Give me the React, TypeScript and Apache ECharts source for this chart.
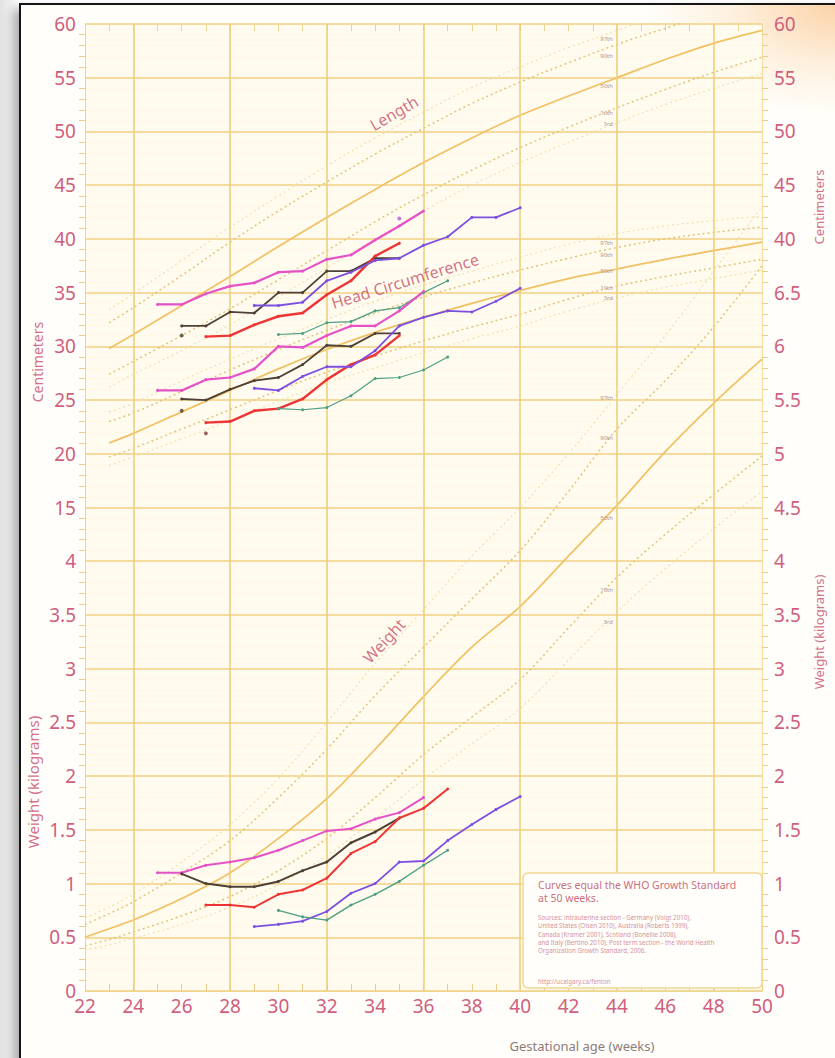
import React, { useEffect, useRef } from "react";
import * as echarts from "echarts";

// ---- Axis ranges / tick labels ----
const weekMin = 22;
const weekMax = 50;
const leftTickLabels = ["0", "0.5", "1", "1.5", "2", "2.5", "3", "3.5", "4", "15", "20", "25", "30", "35", "40", "45", "50", "55", "60"];
const rightTickLabels = ["0", "0.5", "1", "1.5", "2", "2.5", "3", "3.5", "4", "4.5", "5", "5.5", "6", "6.5", "40", "45", "50", "55", "60"];
const majorWeekLines = [24, 28, 32, 36, 40, 44, 48];

// ---- Reference percentile curves (cm) ----
const weeksLH = [23, 24, 26, 28, 30, 32, 34, 36, 38, 40, 42, 44, 46, 48, 50];
const len97 = [33.4, 34.9, 38.0, 41.1, 44.0, 46.8, 49.4, 51.8, 54.1, 56.0, 57.8, 59.4, 61.0, 62.4, 63.6];
const len90 = [32.2, 33.6, 36.6, 39.7, 42.6, 45.3, 47.9, 50.3, 52.6, 54.6, 56.4, 58.1, 59.6, 61.0, 62.2];
const len50 = [29.8, 31.1, 33.8, 36.5, 39.3, 42.0, 44.6, 47.1, 49.4, 51.5, 53.3, 55.0, 56.7, 58.2, 59.4];
const len10 = [27.4, 28.6, 31.0, 33.5, 36.2, 38.9, 41.6, 44.1, 46.4, 48.5, 50.4, 52.2, 53.9, 55.5, 56.9];
const len3 = [26.2, 27.4, 29.6, 32.0, 34.6, 37.3, 40.0, 42.6, 45.0, 47.1, 49.0, 50.8, 52.5, 54.0, 55.4];

const hc97 = [23.9, 24.7, 26.8, 28.8, 30.7, 32.5, 34.2, 35.7, 37.0, 38.3, 39.5, 40.5, 41.2, 41.7, 42.1];
const hc90 = [23.0, 23.8, 25.8, 27.8, 29.7, 31.5, 33.1, 34.6, 35.9, 37.1, 38.2, 39.2, 40.0, 40.6, 41.1];
const hc50 = [21.0, 21.9, 23.9, 25.9, 27.9, 29.7, 31.3, 32.7, 34.0, 35.2, 36.3, 37.2, 38.1, 38.9, 39.7];
const hc10 = [19.7, 20.5, 22.3, 24.1, 25.9, 27.6, 29.1, 30.5, 31.8, 33.0, 34.4, 35.6, 36.5, 37.3, 38.1];
const hc3 = [18.9, 19.7, 21.4, 23.1, 24.9, 26.6, 28.0, 29.4, 30.7, 31.9, 33.3, 34.5, 35.5, 36.3, 37.1];

// ---- Reference percentile curves (kg) ----
const weeksWt = [22, 23, 24, 26, 28, 30, 32, 34, 36, 38, 40, 42, 44, 46, 48, 50];
const wt97 = [0.68, 0.78, 0.9, 1.2, 1.55, 1.98, 2.5, 3.05, 3.55, 4.05, 4.5, 5.0, 5.55, 6.1, 6.7, 7.3];
const wt90 = [0.62, 0.72, 0.83, 1.1, 1.4, 1.8, 2.25, 2.75, 3.2, 3.65, 4.1, 4.65, 5.23, 5.68, 6.18, 6.75];
const wt50 = [0.5, 0.58, 0.66, 0.86, 1.1, 1.42, 1.79, 2.25, 2.74, 3.2, 3.58, 4.05, 4.52, 5.02, 5.47, 5.88];
const wt10 = [0.42, 0.48, 0.55, 0.7, 0.88, 1.12, 1.42, 1.8, 2.2, 2.55, 2.9, 3.38, 3.85, 4.25, 4.62, 4.98];
const wt3 = [0.38, 0.43, 0.49, 0.62, 0.78, 0.99, 1.26, 1.6, 1.97, 2.3, 2.63, 3.08, 3.53, 3.93, 4.3, 4.65];

// ---- Plotted infant measurements ----
const wkMagenta = [25, 26, 27, 28, 29, 30, 31, 32, 33, 34, 35, 36];
const wkBlack = [26, 27, 28, 29, 30, 31, 32, 33, 34, 35];
const wkRed = [27, 28, 29, 30, 31, 32, 33, 34, 35];
const wkRedWt = [27, 28, 29, 30, 31, 32, 33, 34, 35, 36, 37];
const wkPurple = [29, 30, 31, 32, 33, 34, 35, 36, 37, 38, 39, 40];
const wkGreen = [30, 31, 32, 33, 34, 35, 36, 37];

const lenMagenta = [33.9, 33.9, 34.9, 35.6, 35.9, 36.9, 37.0, 38.1, 38.5, 39.9, 41.2, 42.6];
const lenBlack = [31.9, 31.9, 33.2, 33.1, 35.0, 35.0, 37.0, 37.0, 38.2, 38.2];
const lenRed = [30.9, 31.0, 32.0, 32.8, 33.1, 34.8, 36.1, 38.4, 39.6];
const lenPurple = [33.8, 33.8, 34.1, 36.1, 36.9, 38.0, 38.2, 39.4, 40.2, 42.0, 42.0, 42.9];
const lenGreen = [31.1, 31.2, 32.2, 32.3, 33.3, 33.6, 35.0, 36.1];

const hcMagenta = [25.9, 25.9, 26.9, 27.1, 27.9, 30.0, 29.9, 31.0, 31.9, 31.9, 33.3, 35.1];
const hcBlack = [25.1, 25.0, 26.0, 26.8, 27.1, 28.3, 30.1, 30.0, 31.2, 31.2];
const hcRed = [22.9, 23.0, 24.0, 24.2, 25.1, 26.9, 28.3, 29.2, 31.0];
const hcPurple = [26.1, 25.9, 27.2, 28.1, 28.1, 29.6, 31.9, 32.7, 33.3, 33.2, 34.2, 35.4];
const hcGreen = [24.2, 24.1, 24.3, 25.4, 27.0, 27.1, 27.8, 29.0];

const wtMagenta = [1.1, 1.1, 1.17, 1.2, 1.24, 1.31, 1.4, 1.49, 1.51, 1.6, 1.66, 1.8];
const wtBlack = [1.09, 1.0, 0.97, 0.97, 1.02, 1.12, 1.2, 1.38, 1.48, 1.61];
const wtRed = [0.8, 0.8, 0.78, 0.9, 0.94, 1.05, 1.28, 1.39, 1.61, 1.7, 1.88];
const wtPurple = [0.6, 0.62, 0.65, 0.74, 0.91, 1.0, 1.2, 1.21, 1.4, 1.55, 1.69, 1.81];
const wtGreen = [0.75, 0.69, 0.66, 0.8, 0.9, 1.02, 1.17, 1.31];

// single marks drawn in ink (week, cm)
const loneMarkWeeks = [26, 26, 27, 35];
const loneMarkValues = [31.0, 24.0, 21.9, 41.9];
const loneMarkColors = ["#4e4036", "#4e4036", "#8a3a3a", "#b05ad0"];

const INK = {
  magenta: "#e552c8",
  black: "#4e4036",
  red: "#ee3535",
  purple: "#7d4fe0",
  green: "#4e9e84",
};

const pairs = (xs: number[], ys: number[]) => xs.map((x, i) => [x, ys[i]]);

const ROSE = "#cf5f7d";
const FONT = "'Noto Sans', 'DejaVu Sans', sans-serif";

function percentileSeries(xs: number[], ys: number[], kind: "mid" | "inner" | "outer", weight: boolean) {
  const style =
    kind === "mid"
      ? { color: "#f1c063", width: 1.7, type: "solid" as const }
      : kind === "inner"
      ? { color: "#e2c27a", width: 1.5, type: [2, 3] as any }
      : { color: "#efe0b2", width: 1.2, type: [2, 3] as any };
  return {
    type: "line",
    data: pairs(xs, ys),
    xAxisIndex: 0,
    yAxisIndex: weight ? 2 : 0,
    smooth: 0.35,
    showSymbol: false,
    silent: true,
    z: 2,
    lineStyle: style,
  };
}

function inkSeries(xs: number[], ys: number[], color: string, weight: boolean, width = 2.2) {
  return {
    type: "line",
    data: pairs(xs, ys),
    xAxisIndex: 0,
    yAxisIndex: weight ? 2 : 0,
    smooth: false,
    symbol: "circle",
    symbolSize: 3,
    showSymbol: true,
    silent: true,
    z: 6,
    lineStyle: { color, width },
    itemStyle: { color },
  };
}

function tinyLabel(text: string, x: number, y: number) {
  return {
    type: "text",
    x,
    y,
    style: { text, fill: "#b8967a", fontSize: 6, fontFamily: FONT, align: "right", verticalAlign: "middle" },
    z: 20,
  };
}

function titleText(text: string, x: number, y: number, rotation: number, size: number, fill: string) {
  return {
    type: "text",
    x,
    y,
    rotation,
    style: { text, fill, fontSize: size, fontFamily: FONT, align: "center", verticalAlign: "middle" },
    z: 20,
  };
}

export default function App() {
  const ref = useRef<HTMLDivElement>(null);

  useEffect(() => {
    if (!ref.current) return;
    const chart = echarts.init(ref.current, undefined, { renderer: "svg" });

    const yLabelCommon = {
      color: ROSE,
      fontSize: 19,
      fontFamily: FONT,
    };

    const option: any = {
      animation: false,
      grid: {
        left: 85,
        right: 73,
        top: 24,
        bottom: 67,
        show: true,
        backgroundColor: "#fffcef",
        borderWidth: 0,
      },
      xAxis: [
        {
          type: "value",
          min: weekMin,
          max: weekMax,
          interval: 2,
          position: "bottom",
          axisLine: { show: true, onZero: false, lineStyle: { color: "#efd48c", width: 1 } },
          axisTick: { show: true, inside: true, length: 7, lineStyle: { color: "#e8cd88" } },
          minorTick: { show: true, splitNumber: 2, length: 7, lineStyle: { color: "#e8cd88" } },
          splitLine: { show: false },
          axisLabel: { color: ROSE, fontSize: 19, fontFamily: FONT, margin: 5 },
        },
        {
          type: "value",
          min: weekMin,
          max: weekMax,
          interval: 2,
          position: "top",
          axisLine: { show: false, onZero: false },
          axisTick: { show: true, inside: true, length: 7, lineStyle: { color: "#ecd493" } },
          minorTick: { show: true, splitNumber: 2, length: 7, lineStyle: { color: "#ecd493" } },
          splitLine: { show: false },
          axisLabel: { show: false },
        },
      ],
      yAxis: [
        {
          type: "value",
          min: -30,
          max: 60,
          interval: 5,
          position: "left",
          axisLine: { show: true, onZero: false, lineStyle: { color: "#efd48c", width: 1 } },
          axisTick: { show: false },
          minorTick: { show: true, splitNumber: 5, length: 6, lineStyle: { color: "#ead08c" } },
          splitLine: { show: true, lineStyle: { color: "#f2d283", width: 1.6 } },
          minorSplitLine: { show: true, lineStyle: { color: "#fdf6e2", width: 0.7 } },
          axisLabel: {
            ...yLabelCommon,
            margin: 9,
            formatter: (v: number) => leftTickLabels[Math.round((v + 30) / 5)] ?? "",
          },
        },
        {
          type: "value",
          min: -30,
          max: 60,
          interval: 5,
          position: "right",
          axisLine: { show: true, onZero: false, lineStyle: { color: "#f3dc9c", width: 1 } },
          axisTick: { show: false },
          minorTick: { show: true, splitNumber: 5, length: 6, lineStyle: { color: "#ead08c" } },
          splitLine: { show: false },
          axisLabel: {
            ...yLabelCommon,
            margin: 12,
            formatter: (v: number) => rightTickLabels[Math.round((v + 30) / 5)] ?? "",
          },
        },
        {
          type: "value",
          min: 0,
          max: 9,
          interval: 0.5,
          show: false,
        },
      ],
      series: [
        {
          type: "line",
          data: [],
          xAxisIndex: 0,
          yAxisIndex: 0,
          silent: true,
          z: 1,
          markLine: {
            silent: true,
            symbol: "none",
            label: { show: false },
            lineStyle: { color: "#efcf7e", width: 1.6, type: "solid" },
            data: majorWeekLines.map((w) => ({ xAxis: w })),
          },
        },
        percentileSeries(weeksLH, len97, "outer", false),
        percentileSeries(weeksLH, len90, "inner", false),
        percentileSeries(weeksLH, len50, "mid", false),
        percentileSeries(weeksLH, len10, "inner", false),
        percentileSeries(weeksLH, len3, "outer", false),
        percentileSeries(weeksLH, hc97, "outer", false),
        percentileSeries(weeksLH, hc90, "inner", false),
        percentileSeries(weeksLH, hc50, "mid", false),
        percentileSeries(weeksLH, hc10, "inner", false),
        percentileSeries(weeksLH, hc3, "outer", false),
        percentileSeries(weeksWt, wt97, "outer", true),
        percentileSeries(weeksWt, wt90, "inner", true),
        percentileSeries(weeksWt, wt50, "mid", true),
        percentileSeries(weeksWt, wt10, "inner", true),
        percentileSeries(weeksWt, wt3, "outer", true),

        inkSeries(wkMagenta, lenMagenta, INK.magenta, false, 2.2),
        inkSeries(wkBlack, lenBlack, INK.black, false, 1.8),
        inkSeries(wkRed, lenRed, INK.red, false, 2.4),
        inkSeries(wkPurple, lenPurple, INK.purple, false, 1.8),
        inkSeries(wkGreen, lenGreen, INK.green, false, 1.2),

        inkSeries(wkMagenta, hcMagenta, INK.magenta, false, 2.2),
        inkSeries(wkBlack, hcBlack, INK.black, false, 1.8),
        inkSeries(wkRed, hcRed, INK.red, false, 2.4),
        inkSeries(wkPurple, hcPurple, INK.purple, false, 1.8),
        inkSeries(wkGreen, hcGreen, INK.green, false, 1.2),

        inkSeries(wkMagenta, wtMagenta, INK.magenta, true, 2),
        inkSeries(wkBlack, wtBlack, INK.black, true, 2),
        inkSeries(wkRedWt, wtRed, INK.red, true, 2),
        inkSeries(wkPurple, wtPurple, INK.purple, true, 1.8),
        inkSeries(wkGreen, wtGreen, INK.green, true, 1.4),

        {
          type: "scatter",
          xAxisIndex: 0,
          yAxisIndex: 0,
          silent: true,
          z: 7,
          symbolSize: 4,
          data: loneMarkWeeks.map((w, i) => ({
            value: [w, loneMarkValues[i]],
            itemStyle: { color: loneMarkColors[i] },
          })),
        },
      ],
      graphic: [
        // curve group titles
        titleText("Length", 394, 113, (30 * Math.PI) / 180, 16, "rgba(200,90,115,0.85)"),
        titleText("Head Circumference", 405, 281, (17 * Math.PI) / 180, 16, "rgba(200,90,115,0.85)"),
        titleText("Weight", 384, 641, (47 * Math.PI) / 180, 16, "rgba(200,90,115,0.85)"),

        // percentile tags
        tinyLabel("97th", 613, 39),
        tinyLabel("90th", 613, 56),
        tinyLabel("50th", 613, 86),
        tinyLabel("10th", 613, 113),
        tinyLabel("3rd", 613, 124),
        tinyLabel("97th", 613, 243),
        tinyLabel("90th", 613, 255),
        tinyLabel("50th", 613, 271),
        tinyLabel("10th", 613, 288),
        tinyLabel("3rd", 613, 298),
        tinyLabel("97th", 613, 398),
        tinyLabel("90th", 613, 438),
        tinyLabel("50th", 613, 518),
        tinyLabel("10th", 613, 590),
        tinyLabel("3rd", 613, 622),

        // axis titles
        titleText("Centimeters", 37, 362, Math.PI / 2, 14, "#d27189"),
        titleText("Weight (kilograms)", 33, 782, Math.PI / 2, 15, "#d27189"),
        titleText("Centimeters", 819, 207, Math.PI / 2, 13, "#d27189"),
        titleText("Weight (kilograms)", 819, 632, Math.PI / 2, 13, "#d27189"),
        titleText("Gestational age (weeks)", 582, 1046, 0, 13, "#8c7c7a"),

        // info box
        {
          type: "rect",
          shape: { x: 523, y: 873, width: 239, height: 115, r: 5 },
          style: { fill: "#fffefa", stroke: "#f2d696", lineWidth: 1.5 },
          z: 15,
        },
        {
          type: "text",
          x: 538,
          y: 879,
          style: {
            text: "Curves equal the WHO Growth Standard\nat 50 weeks.",
            fill: "#c9707e",
            fontSize: 10.5,
            lineHeight: 12.5,
            fontFamily: FONT,
          },
          z: 16,
        },
        {
          type: "text",
          x: 538,
          y: 913,
          style: {
            text:
              "Sources: intrauterine section - Germany (Voigt 2010),\nUnited States (Olsen 2010), Australia (Roberts 1999),\nCanada (Kramer 2001), Scotland (Bonellie 2008),\nand Italy (Bertino 2010). Post term section - the World Health\nOrganization Growth Standard, 2006.",
            fill: "#d6929a",
            fontSize: 6.2,
            lineHeight: 8.4,
            fontFamily: FONT,
          },
          z: 16,
        },
        {
          type: "text",
          x: 538,
          y: 978,
          style: { text: "http://ucalgary.ca/fenton", fill: "#d6929a", fontSize: 6.2, fontFamily: FONT },
          z: 16,
        },
      ],
    };

    chart.setOption(option);
    return () => chart.dispose();
  }, []);

  return (
    <div
      style={{
        position: "absolute",
        left: 0,
        top: 0,
        width: 835,
        height: 1058,
        overflow: "hidden",
        background: "linear-gradient(90deg, #e2e2e2 0px, #f4f4f4 14px, #ffffff 20px)",
      }}
    >
      <div
        style={{
          position: "absolute",
          left: 19,
          top: 3,
          width: 900,
          height: 1100,
          borderLeft: "2px solid #151515",
          borderTop: "2px solid #151515",
          boxShadow: "-5px 6px 10px rgba(0,0,0,0.35)",
          background:
            "radial-gradient(ellipse 190px 110px at 816px 0px, rgba(250,196,140,0.75), rgba(252,214,170,0.35) 55%, rgba(255,255,255,0) 100%), #fffefa",
        }}
      />
      <div ref={ref} style={{ position: "absolute", left: 0, top: 0, width: 835, height: 1058 }} />
    </div>
  );
}
